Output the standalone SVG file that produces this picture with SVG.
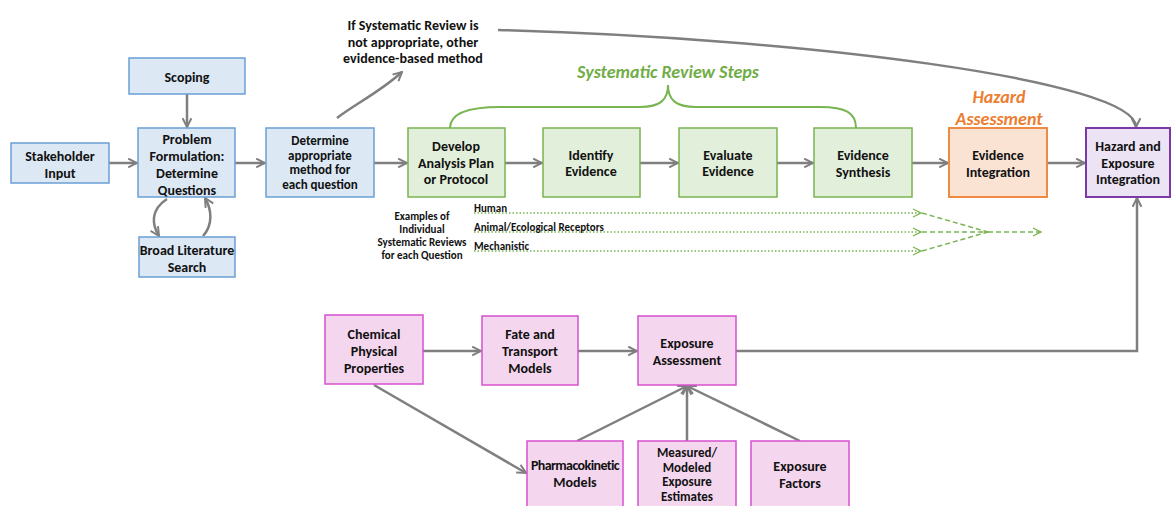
<svg xmlns="http://www.w3.org/2000/svg" width="1172" height="506" viewBox="0 0 1172 506">
<defs>
<style>
text{font-family:Carlito,Lato,"Liberation Sans",sans-serif;font-weight:bold;font-size:14px;fill:#111;text-anchor:middle}
.blue{fill:#dce8f4;stroke:#6a9fd4;stroke-width:1.5}
.green{fill:#e2efda;stroke:#78b450;stroke-width:1.5}
.orange{fill:#fbe3d4;stroke:#ee8a44;stroke-width:2}
.purple{fill:#ece4f4;stroke:#7a3aa6;stroke-width:2}
.pink{fill:#f5d6ef;stroke:#d650cf;stroke-width:1.5}
.conn{fill:none;stroke:#7f7f7f;stroke-width:2.5}
.gdot{fill:none;stroke:#78b450;stroke-width:1.3;stroke-dasharray:1.5 2}
.gdash{fill:none;stroke:#78b450;stroke-width:1.5;stroke-dasharray:5 3}
.small{font-size:11px}
.lbl{font-style:italic;font-size:18px}
.tight{font-size:13px}
</style>
<marker id="ah" viewBox="0 0 10 10" refX="9" refY="5" markerWidth="11" markerHeight="11" markerUnits="userSpaceOnUse" orient="auto">
<path d="M1,1 L9,5 L1,9" fill="none" stroke="#7f7f7f" stroke-width="1.8"/>
</marker>
<marker id="gh" viewBox="0 0 10 10" refX="9" refY="5" markerWidth="10" markerHeight="10" markerUnits="userSpaceOnUse" orient="auto">
<path d="M1,1 L9,5 L1,9" fill="none" stroke="#78b450" stroke-width="1.3"/>
</marker>
</defs>
<rect width="1172" height="506" fill="#fff"/>

<g id="connectors">
<path class="conn" d="M109,163 H137" marker-end="url(#ah)"/>
<path class="conn" d="M187,94 V127" marker-end="url(#ah)"/>
<path class="conn" d="M167,199 C150,210 152,225 159,236" marker-end="url(#ah)"/>
<path class="conn" d="M203,236 C213,225 212,210 205,198" marker-end="url(#ah)"/>
<path class="conn" d="M235,163 H265" marker-end="url(#ah)"/>
<path class="conn" d="M374,163 H407" marker-end="url(#ah)"/>
<path class="conn" d="M505,163 H542" marker-end="url(#ah)"/>
<path class="conn" d="M640,163 H678" marker-end="url(#ah)"/>
<path class="conn" d="M777,163 H813" marker-end="url(#ah)"/>
<path class="conn" d="M912,163 H948" marker-end="url(#ah)"/>
<path class="conn" d="M1047,163 H1085" marker-end="url(#ah)"/>
<path class="conn" d="M337,118 C355,104 380,92 402,72" marker-end="url(#ah)"/>
<path class="conn" d="M498,30 C800,38 1136,80 1136,127" marker-end="url(#ah)"/>
<path class="conn" d="M736,351 H1137 V198" marker-end="url(#ah)"/>
<path class="conn" d="M423,351 H481" marker-end="url(#ah)"/>
<path class="conn" d="M578,351 H637" marker-end="url(#ah)"/>
<path class="conn" d="M374,385 L526,473" marker-end="url(#ah)"/>
<path class="conn" d="M577,441 L687,386" marker-end="url(#ah)"/>
<path class="conn" d="M687,441 V386" marker-end="url(#ah)"/>
<path class="conn" d="M800,441 L687,386" marker-end="url(#ah)"/>
<path d="M450,128 C450,113 468,107 500,107 L640,107 C660,107 668,100 668,85 C668,100 676,107 696,107 L820,107 C846,107 856,113 856,128" fill="none" stroke="#78b450" stroke-width="2"/>
<path class="gdot" d="M474,213 H920"/>
<path class="gdot" d="M474,232 H920"/>
<path class="gdot" d="M474,251 H920"/>
<path d="M913,209 L921,213 L913,217 M913,228 L921,232 L913,236 M913,247 L921,251 L913,255" fill="none" stroke="#78b450" stroke-width="1.3"/>
<path class="gdash" d="M922,213 L988,232"/>
<path class="gdash" d="M922,232 L988,232"/>
<path class="gdash" d="M922,251 L988,232"/>
<path class="gdash" d="M988,232 H1041" marker-end="url(#gh)"/>
</g>

<g id="note">
<text x="413" y="30">If Systematic Review is</text>
<text x="413" y="47">not appropriate, other</text>
<text x="413" y="63">evidence-based method</text>
</g>
<g id="srs-label"><text class="lbl" x="668" y="78" style="fill:#70ad47">Systematic Review Steps</text></g>
<g id="ha-label">
<text class="lbl" x="999" y="103" style="fill:#ed7d31">Hazard</text>
<text class="lbl" x="999" y="125" style="fill:#ed7d31">Assessment</text>
</g>
<g id="examples">
<text class="small" x="422" y="220">Examples of</text>
<text class="small" x="422" y="233">Individual</text>
<text class="small" x="422" y="246">Systematic Reviews</text>
<text class="small" x="422" y="259">for each Question</text>
<text class="small" x="474" y="212" style="text-anchor:start">Human</text>
<text class="small" x="474" y="231" style="text-anchor:start">Animal/Ecological Receptors</text>
<text class="small" x="474" y="250" style="text-anchor:start">Mechanistic</text>
</g>

<g id="stakeholder"><rect class="blue" x="11" y="143" width="98" height="40"/>
<text x="60" y="161">Stakeholder</text><text x="60" y="178">Input</text></g>
<g id="scoping"><rect class="blue" x="129" y="58" width="116" height="36"/>
<text x="187" y="82">Scoping</text></g>
<g id="problem"><rect class="blue" x="138" y="128" width="97" height="69"/>
<text x="187" y="144">Problem</text><text x="187" y="161">Formulation:</text><text x="187" y="178">Determine</text><text x="187" y="195">Questions</text></g>
<g id="broad"><rect class="blue" x="139" y="237" width="96" height="40"/>
<text x="187" y="255">Broad Literature</text><text x="187" y="272">Search</text></g>
<g id="determine"><rect class="blue" x="266" y="128" width="108" height="69"/>
<text class="tight" x="320" y="145">Determine</text><text class="tight" x="320" y="159.5">appropriate</text><text class="tight" x="320" y="174">method for</text><text class="tight" x="320" y="188.5">each question</text></g>

<g id="develop"><rect class="green" x="408" y="128" width="97" height="69"/>
<text x="456" y="151">Develop</text><text x="456" y="168">Analysis Plan</text><text x="456" y="184">or Protocol</text></g>
<g id="identify"><rect class="green" x="543" y="128" width="97" height="69"/>
<text x="591" y="160">Identify</text><text x="591" y="176">Evidence</text></g>
<g id="evaluate"><rect class="green" x="679" y="128" width="98" height="69"/>
<text x="728" y="160">Evaluate</text><text x="728" y="176">Evidence</text></g>
<g id="synthesis"><rect class="green" x="814" y="128" width="98" height="69"/>
<text x="863" y="160">Evidence</text><text x="863" y="177">Synthesis</text></g>
<g id="integration"><rect class="orange" x="949" y="128" width="98" height="69"/>
<text x="998" y="160">Evidence</text><text x="998" y="177">Integration</text></g>
<g id="hazard-exposure"><rect class="purple" x="1086" y="128" width="84" height="69"/>
<text x="1128" y="151">Hazard and</text><text x="1128" y="168">Exposure</text><text x="1128" y="184">Integration</text></g>

<g id="chemical"><rect class="pink" x="325" y="315" width="98" height="69"/>
<text x="374" y="339">Chemical</text><text x="374" y="356">Physical</text><text x="374" y="373">Properties</text></g>
<g id="fate"><rect class="pink" x="482" y="316" width="96" height="69"/>
<text x="530" y="339">Fate and</text><text x="530" y="356">Transport</text><text x="530" y="373">Models</text></g>
<g id="exposure-assessment"><rect class="pink" x="638" y="316" width="98" height="69"/>
<text x="687" y="348">Exposure</text><text x="687" y="365">Assessment</text></g>
<g id="pk"><rect class="pink" x="527" y="441" width="96" height="70"/>
<text x="575" y="470" style="letter-spacing:-0.6px">Pharmacokinetic</text><text x="575" y="487">Models</text></g>
<g id="measured"><rect class="pink" x="638" y="441" width="98" height="70"/>
<text class="tight" x="687" y="457">Measured/</text><text class="tight" x="687" y="471.5">Modeled</text><text class="tight" x="687" y="486">Exposure</text><text class="tight" x="687" y="500.5">Estimates</text></g>
<g id="factors"><rect class="pink" x="751" y="441" width="98" height="70"/>
<text x="800" y="471">Exposure</text><text x="800" y="488">Factors</text></g>
</svg>
